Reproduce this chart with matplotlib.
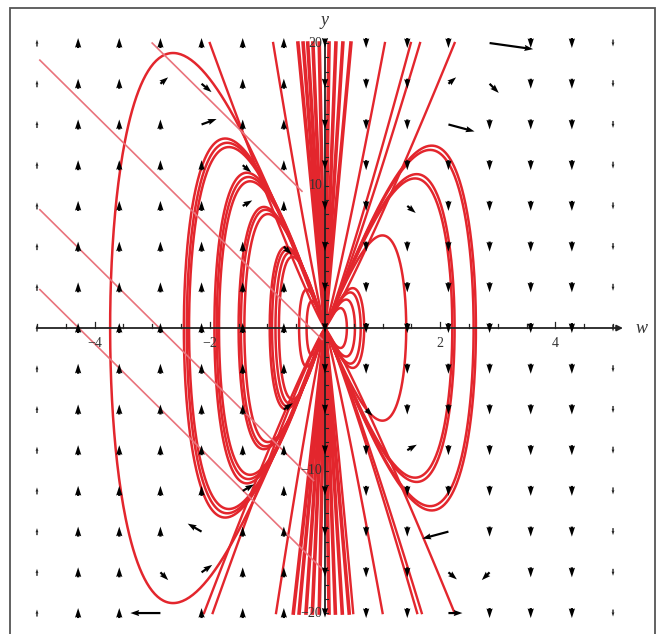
import numpy as np
import matplotlib
matplotlib.use("Agg")
from matplotlib import pyplot as plt
from matplotlib.patches import Rectangle

# closed loops through the origin: half-width W and total height H (top = H/2)
left_W = [3.73, 2.45, 2.40, 2.36, 1.92, 1.88, 1.84, 1.50, 1.46, 1.40, 0.96, 0.92, 0.86, 0.80, 0.45, 0.32]
left_H = [38.6, 26.6, 26.0, 25.4, 21.8, 21.2, 20.6, 17.0, 16.6, 16.0, 11.4, 11.0, 10.6, 10.0, 5.4, 3.8]
right_W = [2.62, 2.58, 2.25, 2.21, 1.41, 0.68, 0.62, 0.52, 0.38]
right_H = [25.6, 25.0, 21.6, 21.0, 13.0, 5.6, 5.0, 4.0, 2.8]

# open curves from the origin to the top / bottom edge (w where they leave)
fan_top = [-2.0, -0.9, 1.04, 1.49, 1.65, 2.25]
fan_bot = [-2.1, -1.95, -0.85, 0.49, 1.0, 1.6, 1.68, 2.25]
bundle_top = [-0.47, -0.38, -0.30, -0.21, -0.10, 0.07, 0.19, 0.31, 0.45]
bundle_bot = [-0.55, -0.45, -0.33, -0.22, -0.10, 0.07, 0.18, 0.30, 0.42]

# straight trajectories y = -4w + c, ending at w_end
diag_c = [8.0, -1.0, -11.5, -17.1]
diag_end = [-0.4, -0.05, -0.2, 0.0]

# direction field grid
grid_w = np.linspace(-5, 5, 15)
grid_y = np.linspace(20, -20, 15)
col_len = [7, 10, 10, 10, 10, 10, 10, 9, 10, 10, 10, 10, 10, 10, 7]
edge_cols = [0, 14]
# special arrows: column, row, screen angle (deg), length (px)
spec_col = [11, 10, 10, 11, 9, 3, 4, 4, 5, 5, 6, 6, 5, 4, 4, 3, 3, 10, 10, 11, 9, 8, 10]
spec_row = [0, 2, 1, 1, 4, 1, 1, 2, 3, 4, 5, 9, 11, 12, 13, 13, 14, 12, 13, 13, 10, 9, 14]
spec_ang = [-8, -15, 40, -45, -40, 40, -40, 20, -40, 30, -45, 35, 30, 150, 35, -45, 180, 195, -40, 225, 30, -45, 0]
spec_len = [44, 27, 10, 13, 11, 10, 13, 16, 11, 11, 11, 11, 13, 16, 13, 11, 30, 27, 11, 11, 11, 9, 14]

red = '#e3262d'
pink = '#e9737c'

fig = plt.figure(figsize=(6.61, 6.34), dpi=100)
ax = fig.add_axes([0, 0, 1, 1])
ax.set_xlim(-5.642, 5.833)
ax.set_ylim(-21.47, 23.02)
ax.axis('off')

fig.patches.append(Rectangle((10 / 661, -0.02), 645 / 661, 1 - 8 / 634 + 0.02,
                             transform=fig.transFigure, fill=False,
                             edgecolor='#555555', linewidth=1.3))

t = np.linspace(0, np.pi, 300)
for W, H in zip(left_W, left_H):
    ax.plot(-W * np.sin(t), H * np.cos(t) * np.sin(t), color=red, lw=1.8, zorder=2)
for W, H in zip(right_W, right_H):
    ax.plot(W * np.sin(t), H * np.cos(t) * np.sin(t), color=red, lw=1.8, zorder=2)

s = np.linspace(0, 1, 100)
for we in fan_top:
    ax.plot(we * s ** 0.9, 20 * s, color=red, lw=1.7, zorder=2)
for we in fan_bot:
    ax.plot(we * s ** 0.9, -20 * s, color=red, lw=1.7, zorder=2)
for we in bundle_top:
    ax.plot(we * s, 20 * s, color=red, lw=2.6, zorder=2)
for we in bundle_bot:
    ax.plot(we * s, -20 * s, color=red, lw=2.6, zorder=2)

for c, we in zip(diag_c, diag_end):
    w0 = max(-4.95, (c - 20) / 4)
    ww = np.array([w0, we])
    ax.plot(ww, -4 * ww + c, color=pink, lw=1.2, zorder=2)

# axes
ax.plot([-5, 5.12], [0, 0], color='#222222', lw=1.3, zorder=3)
ax.annotate('', xy=(5.22, 0), xytext=(5.0, 0),
            arrowprops=dict(arrowstyle='-|>', color='#222222', lw=1.2, mutation_scale=9), zorder=3)
ax.plot([0, 0], [-20, 20], color='#222222', lw=1.3, zorder=3)
for xv in np.arange(-5, 5.01, 0.5):
    h = 0.45 if abs(xv) % 2 < 1e-9 and xv != 0 else 0.25
    ax.plot([xv, xv], [0, h], color='#222222', lw=0.9, zorder=3)
for yv in np.arange(-20, 20.01, 1):
    ax.plot([0, 0.05], [yv, yv], color='#222222', lw=0.8, zorder=3)
for xv in [-4, -2, 2, 4]:
    ax.text(xv, -0.6, '%g' % xv if xv > 0 else '\u2212%g' % -xv, ha='center', va='top',
            family='Liberation Serif', fontsize=10, color='#333333', zorder=4)
for yv in [20, 10, -10, -20]:
    ax.text(-0.05, yv, '%g' % yv if yv > 0 else '\u2212%g' % -yv, ha='right', va='center',
            family='Liberation Serif', fontsize=10, color='#333333', zorder=4)
ax.text(5.4, 0, 'w', ha='left', va='center', family='Liberation Serif',
        style='italic', fontsize=13, color='#333333')
ax.text(0, 21.0, 'y', ha='center', va='bottom', family='Liberation Serif',
        style='italic', fontsize=13, color='#333333')

# default direction field arrows (teardrop-like heads)
special = set(zip(spec_col, spec_row))
X, Y, U, V = [], [], [], []
EX, EY, EU, EV = [], [], [], []
for i, w in enumerate(grid_w):
    for j, y in enumerate(grid_y):
        if (i, j) in special:
            continue
        v = col_len[i] if w < 0 else -col_len[i]
        if i in edge_cols:
            EX.append(w); EY.append(y); EU.append(0); EV.append(v)
        else:
            X.append(w); Y.append(y); U.append(0); V.append(v)
ax.quiver(X, Y, U, V, angles='uv', scale_units='dots', scale=1, units='dots',
          width=2.4, headwidth=2.6, headlength=4, headaxislength=3.7,
          minshaft=0.1, minlength=0.2, pivot='middle', color='black', zorder=5)
ax.quiver(EX, EY, EU, EV, angles='uv', scale_units='dots', scale=1, units='dots',
          width=1.4, headwidth=2.0, headlength=3, headaxislength=2.8,
          minshaft=0.5, minlength=0.2, pivot='middle', color='#222222', zorder=5)

SX = [grid_w[c] for c in spec_col]
SY = [grid_y[r] for r in spec_row]
SU = [L * np.cos(np.radians(a)) for a, L in zip(spec_ang, spec_len)]
SV = [L * np.sin(np.radians(a)) for a, L in zip(spec_ang, spec_len)]
ax.quiver(SX, SY, SU, SV, angles='uv', scale_units='dots', scale=1, units='dots',
          width=2.2, headwidth=2.8, headlength=4, headaxislength=3.6,
          minshaft=0.1, minlength=0.2, pivot='tail', color='black', zorder=5)

fig.savefig('out.png', dpi=100)
